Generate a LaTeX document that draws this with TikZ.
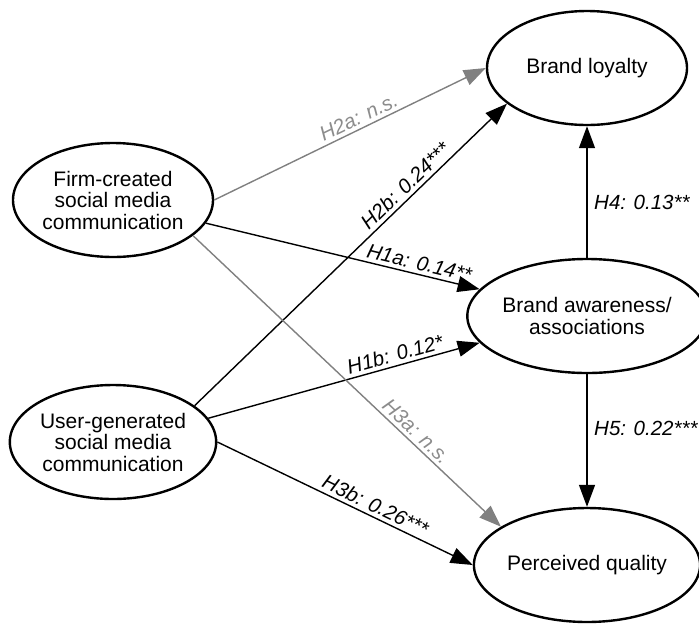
\documentclass[tikz,border=0pt]{standalone}
\usepackage{fontspec}
\setmainfont{Liberation Sans}
\usetikzlibrary{shapes.geometric,arrows.meta}
\definecolor{nsgray}{gray}{0.5}
\definecolor{nstext}{gray}{0.55}
\tikzset{CONSTRUCT/.style={ellipse,draw,line width=2.4pt,minimum width=200pt,minimum height=114pt,inner sep=0pt,align=center,font=\fontsize{21}{21.5}\selectfont}}
\tikzset{EFFECT/.style={line width=1.4pt,-{Triangle[length=22pt,width=16pt]}}}
\tikzset{EFFECTNS/.style={EFFECT,draw=nsgray}}
\tikzset{COEF/.style={font=\fontsize{20.5}{24}\selectfont\itshape,inner sep=3.5pt}}

\begin{document}
\begin{tikzpicture}[x=1pt,y=-1pt]
\useasboundingbox (0,0) rectangle (699,625);

% constructs
\node[CONSTRUCT] (n_loyalty) at (587,68) {Brand loyalty};
\node[CONSTRUCT] (n_awareness) at (587,316) {Brand awareness/\\associations};
\node[CONSTRUCT] (n_quality) at (587,565) {Perceived quality};
\node[CONSTRUCT] (n_firm) at (113,200) {Firm-created\\social media\\communication};
\node[CONSTRUCT] (n_user) at (113,442) {User-generated\\social media\\communication};

% hypothesised paths
\draw[EFFECTNS] (n_firm.east) -- (n_loyalty.west) node[COEF,text=nstext,pos=0.55,sloped,above] {H2a: n.s.};
\draw[EFFECT] (n_user.24) -- (n_loyalty.204) node[COEF,pos=0.70,sloped,above] {H2b: 0.24***};
\draw[EFFECT] (n_firm.-14) -- (n_awareness.166) node[COEF,pos=0.77,sloped,above] {H1a: 0.14**};
\draw[EFFECT] (n_user.14) -- (n_awareness.194) node[COEF,pos=0.70,sloped,above] {H1b: 0.12*};
\draw[EFFECTNS] (n_firm.-24) -- (n_quality.156) node[COEF,text=nstext,pos=0.70,sloped,above] {H3a: n.s.};
\draw[EFFECT] (n_user.east) -- (n_quality.west) node[COEF,pos=0.6,sloped,above] {H3b: 0.26***};
\draw[EFFECT] (n_awareness.north) -- (n_loyalty.south) node[COEF,pos=0.42,right=3pt] {H4: 0.13**};
\draw[EFFECT] (n_awareness.south) -- (n_quality.north) node[COEF,pos=0.41,right=3pt] {H5: 0.22***};

\end{tikzpicture}
\end{document}
